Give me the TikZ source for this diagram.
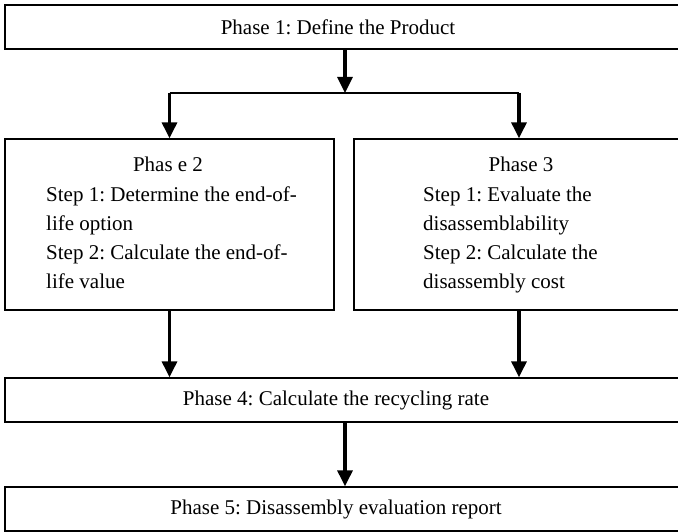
\documentclass[tikz,border=0pt]{standalone}
\usepackage{fontspec}
\setmainfont{Liberation Serif}
\frenchspacing
\usetikzlibrary{arrows.meta}
\tikzset{
  box/.style={draw, line width=1.3pt, inner sep=0pt, rectangle},
  txt/.style={inner sep=0pt, font=\fontsize{21}{29}\selectfont},
  arr/.style={line width=3.2pt, -{Triangle[width=15pt,length=16pt]}},
  link/.style={line width=2pt}
}
\begin{document}
\begin{tikzpicture}[x=1pt,y=-1pt]
\clip (0,0) rectangle (678,532);
\fill[white] (0,0) rectangle (678,532);
% boxes
\node[box, minimum width=679pt, minimum height=44pt] (p1) at (344.5,27) {};
\node[box, minimum width=329pt, minimum height=171pt] (p2) at (169.5,224.5) {};
\node[box, minimum width=330pt, minimum height=171pt] (p3) at (519,224.5) {};
\node[box, minimum width=679pt, minimum height=44pt] (p4) at (344.5,400) {};
\node[box, minimum width=679pt, minimum height=44pt] (p5) at (344.5,509) {};
% texts
\node[txt] (t1) at (338,27) {Phase 1: Define the Product};
\node[txt, anchor=base] (t2a) at (168,172) {Phas e 2};
\node[txt, anchor=base west] (t2b) at (46,201) {Step 1: Determine the end-of-};
\node[txt, anchor=base west] (t2c) at (46,230) {life option};
\node[txt, anchor=base west] (t2d) at (46,259) {Step 2: Calculate the end-of-};
\node[txt, anchor=base west] (t2e) at (46,288) {life value};
\node[txt, anchor=base] (t3a) at (521,172) {Phase 3};
\node[txt, anchor=base west] (t3b) at (423,201) {Step 1: Evaluate the};
\node[txt, anchor=base west] (t3c) at (423,230) {disassemblability};
\node[txt, anchor=base west] (t3d) at (423,259) {Step 2: Calculate the};
\node[txt, anchor=base west] (t3e) at (423,288) {disassembly cost};
\node[txt] (t4) at (336,400) {Phase 4: Calculate the recycling rate};
\node[txt] (t5) at (336,509) {Phase 5: Disassembly evaluation report};
% connectors
\coordinate (j) at (345,93);
\draw[arr] (p1.south -| j) -- (j);
\draw[link] (j -| p2) -- (j -| p3);
\draw[arr] (j -| p2) -- (p2.north);
\draw[arr] (j -| p3) -- (p3.north);
\draw[arr] (p2.south) -- (p2.south |- p4.north);
\draw[arr] (p3.south) -- (p3.south |- p4.north);
\draw[arr] (p4.south -| j) -- (p5.north -| j);
\end{tikzpicture}
\end{document}
